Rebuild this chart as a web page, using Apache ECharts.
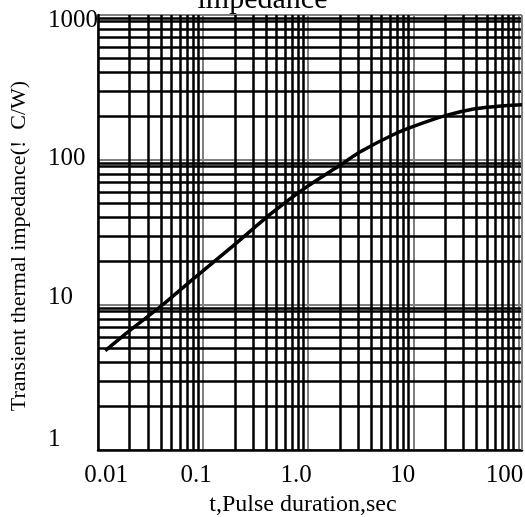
<!DOCTYPE html>
<html>
<head>
<meta charset="utf-8">
<script src="https://cdn.jsdelivr.net/npm/echarts@6/dist/echarts.min.js"></script>
<style>html,body{margin:0;padding:0;background:#fff;}#c{width:525px;height:517px;}</style>
</head>
<body>
<div id="c"></div>
<script>
// Curve data
var pulseDuration = [0.0117, 0.02, 0.041, 0.075, 0.194, 0.467, 0.972, 2.02, 3.13, 6.49, 10.8, 20.9, 37.5, 58.2, 108];
var impedance     = [4.84, 6.66, 10.0, 14.5, 25.7, 44.0, 65.5, 92.4, 114, 150, 174, 204, 225, 233, 240];

// Axis tick labels
var xTickValues = [0.01, 0.1, 1, 10, 100];
var xTickLabels = ['0.01', '0.1', '1.0', '10', '100'];
var yTickValues = [1, 10, 100, 1000];
var yTickLabels = ['1', '10', '100', '1000'];

// Minor grid lines (log graph paper)
var xMinorLines = [0.02,0.03,0.04,0.05,0.06,0.07,0.08,0.09,
                   0.2,0.3,0.4,0.5,0.6,0.7,0.8,0.9,
                   2,3,4,5,6,7,8,9,
                   20,30,40,50,60,70,80,90];
var yMinorLines = [2,3,4,5,6,7,8,9,9.5,
                   20,30,40,50,60,70,80,90,95,
                   200,300,400,500,600,700,800,900,950];

var X_MAX = 108;

function idxOf(arr, v) {
  for (var i = 0; i < arr.length; i++) {
    if (Math.abs(Math.log10(arr[i]) - Math.log10(v)) < 1e-6) return i;
  }
  return -1;
}

var markData = [];
xMinorLines.forEach(function (v) { markData.push({ xAxis: v }); });
yMinorLines.forEach(function (v) { markData.push({ yAxis: v }); });
markData.push({ xAxis: X_MAX, lineStyle: { color: '#808080', width: 2 } });

var serif = 'Liberation Serif';
var chart = echarts.init(document.getElementById('c'), null, { renderer: 'canvas' });
function lab(pad) { return { fontFamily: serif, fontSize: 25, color: '#000', padding: pad }; }
var xRich = {
  x0: lab([0, 0, 0, 16]),
  x1: lab([0, 14, 0, 0]),
  x2: lab([0, 24, 0, 0]),
  x3: lab([0, 21, 0, 0]),
  x4: lab([0, 28, 0, 0])
};
var yRich = {
  y0: lab([0, 0, 21, 0]),
  y1: lab([0, 0, 16, 0]),
  y2: lab([0, 0, 3, 0]),
  y3: lab([10, 0, 0, 0])
};

chart.setOption({
  animation: false,
  backgroundColor: '#ffffff',
  title: {
    text: 'impedance',
    left: 'center',
    top: -20,
    textStyle: { fontFamily: serif, fontSize: 30, fontWeight: 'normal', color: '#000' }
  },
  grid: { left: 98, right: 3, top: 15, bottom: 67, containLabel: false, outerBoundsMode: 'none' },
  xAxis: {
    type: 'log',
    logBase: 10,
    min: 0.01,
    max: X_MAX,
    name: 't,Pulse duration,sec',
    nameLocation: 'middle',
    nameGap: 42,
    nameTextStyle: { fontFamily: serif, fontSize: 24, color: '#000', padding: [0, 14, 0, 0] },
    axisLine: { show: true, lineStyle: { color: '#000', width: 2.5 } },
    axisTick: { show: false },
    splitLine: { show: true, lineStyle: { color: '#808080', width: 2 } },
    axisLabel: {
      margin: 13,
      showMaxLabel: false,
      formatter: function (v) {
        var i = idxOf(xTickValues, v);
        if (i < 0) return '';
        return '{x' + i + '|' + xTickLabels[i] + '}';
      },
      rich: xRich
    }
  },
  yAxis: {
    type: 'log',
    logBase: 10,
    min: 1,
    max: 1000,
    name: 'Transient thermal impedance(!  C/W)',
    nameLocation: 'middle',
    nameGap: 68,
    nameRotate: 90,
    nameTextStyle: { fontFamily: serif, fontSize: 22, color: '#000', padding: [0, 27, 0, 0] },
    axisLine: { show: true, lineStyle: { color: '#000', width: 2.5 } },
    axisTick: { show: false },
    splitLine: { show: true, lineStyle: { color: '#808080', width: 2 } },
    axisLabel: {
      margin: 50,
      align: 'left',
      formatter: function (v) {
        var i = idxOf(yTickValues, v);
        if (i < 0) return '';
        return '{y' + i + '|' + yTickLabels[i] + '}';
      },
      rich: yRich
    }
  },
  series: [
    {
      type: 'line',
      z: 1,
      data: [],
      silent: true,
      markLine: {
        silent: true,
        symbol: ['none', 'none'],
        label: { show: false },
        animation: false,
        lineStyle: { color: '#000', width: 2.5, type: 'solid' },
        emphasis: { disabled: true },
        data: markData
      }
    },
    {
      type: 'line',
      z: 5,
      smooth: 0.25,
      showSymbol: false,
      silent: true,
      lineStyle: { color: '#000', width: 3.5 },
      data: pulseDuration.map(function (t, i) { return [t, impedance[i]]; })
    }
  ]
});
</script>
</body>
</html>
